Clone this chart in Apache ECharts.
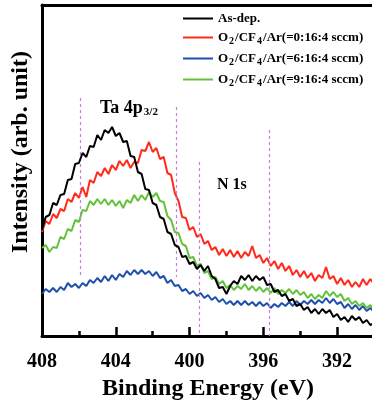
<!DOCTYPE html>
<html><head><meta charset="utf-8">
<script src="https://cdn.jsdelivr.net/npm/echarts@6/dist/echarts.min.js"></script>
<style>html,body{margin:0;padding:0;background:#fff}#c{width:372px;height:400px}</style>
</head><body><div id="c"></div>
<script>
const energy = [408.0,407.8,407.6,407.4,407.2,407.0,406.8,406.6,406.4,406.2,
406.0,405.8,405.6,405.4,405.2,405.0,404.8,404.6,404.4,404.2,
404.0,403.8,403.6,403.4,403.2,403.0,402.8,402.6,402.4,402.2,
402.0,401.8,401.6,401.4,401.2,401.0,400.8,400.6,400.4,400.2,
400.0,399.8,399.6,399.4,399.2,399.0,398.8,398.6,398.4,398.2,
398.0,397.8,397.6,397.4,397.2,397.0,396.8,396.6,396.4,396.2,
396.0,395.8,395.6,395.4,395.2,395.0,394.8,394.6,394.4,394.2,
394.0,393.8,393.6,393.4,393.2,393.0,392.8,392.6,392.4,392.2,
392.0,391.8,391.6,391.4,391.2,391.0,390.8,390.6,390.4,390.2,
390.0];
const asDep = [106,119,121,133,131,141,142,156,157,172,
173,183,179,190,189,201,196,206,203,209,
200,203,194,195,180,179,164,162,147,146,
133,131,119,117,104,102,91,89,79,80,
72,74,67,71,65,70,60,57,48,49,
42,50,55,52,60,56,61,55,60,56,
59,51,52,44,46,40,42,35,37,30,
32,26,29,23,27,22,27,23,26,19,
22,16,19,14,20,16,19,13,16,11,
13];
const o2_0 = [104,115,112,122,118,127,125,137,134,143,
138,149,139,156,153,164,160,168,162,171,
166,175,170,176,168,174,173,186,185,194,
184,188,177,179,163,161,143,135,119,118,
106,109,99,102,92,95,86,89,81,87,
80,86,79,85,78,84,80,90,78,81,
73,78,70,75,67,73,65,70,61,66,
59,65,58,63,55,61,58,69,57,60,
52,58,51,56,49,54,49,57,51,57,
52];
const o2_6 = [42,47,44,48,44,49,46,53,49,52,
48,53,50,56,53,58,54,60,55,61,
56,62,59,65,61,66,62,66,62,65,
60,64,58,60,53,56,50,51,45,47,
42,45,40,43,38,41,36,39,34,37,
32,35,31,35,31,35,31,34,30,34,
30,33,28,32,29,33,30,34,30,35,
31,35,32,36,32,36,33,38,33,37,
32,34,28,32,27,31,26,30,25,28,
24];
const o2_9 = [88,91,84,89,88,99,97,107,105,116,
114,126,125,135,131,137,132,137,131,136,
130,135,128,136,133,141,135,141,136,144,
139,143,135,134,120,116,104,103,92,90,
78,79,70,72,63,65,57,59,52,55,
48,51,46,50,47,52,46,50,45,49,
44,48,43,48,42,46,43,47,42,46,
41,44,38,42,37,41,38,45,40,44,
39,42,35,38,32,35,30,33,28,31,
26];
const seriesNames = ['As-dep.','O2/CF4/Ar(=0:16:4 sccm)','O2/CF4/Ar(=6:16:4 sccm)','O2/CF4/Ar(=9:16:4 sccm)'];
const seriesColors = ['#000000','#ff2a1a','#1f4fad','#62c23a'];
const majorTicks = [408,404,400,396,392];
const minorTicks = [406,402,398,394];
// reference (dashed) lines: [energy, intensity from, intensity to]
const refLines = [[405.9,238,60],[400.7,229,59],[399.5,174,0],[395.7,206,0]];

const serif = '"Liberation Serif","Times New Roman",serif';
const chart = echarts.init(document.getElementById('c'));
const datasets = [asDep, o2_0, o2_6, o2_9];
const series = datasets.map((arr, k) => ({
  name: seriesNames[k], type: 'line', xAxisIndex: 0, yAxisIndex: 0,
  showSymbol: false, symbol: 'none', animation: false,
  lineStyle: {width: 2, color: seriesColors[k]}, itemStyle: {color: seriesColors[k]},
  data: energy.map((e, i) => [e, arr[i]]),
  z: k === 0 ? 5 : 3
}));
series[0].markLine = {
  silent: true, symbol: ['none','none'], animation: false,
  label: {show: false},
  lineStyle: {type: [3,3], color: '#c97fda', width: 1.2},
  data: refLines.map(r => [{coord: [r[0], r[1]]}, {coord: [r[0], r[2]]}])
};
function legendFmt(name) {
  if (name === 'As-dep.') return '{b|As-dep.}';
  const m = name.match(/\(=(.*)\)/);
  return '{b|O}{s|2}{b|/CF}{s|4}{b|/Ar(=' + m[1] + ')}';
}
chart.setOption({
  animation: false,
  grid: {left: 42, top: 5, right: -2, bottom: 64, outerBoundsMode: 'none', containLabel: false},
  legend: {
    orient: 'vertical', left: 183, top: 12, padding: 0, itemWidth: 30, itemHeight: 2, itemGap: 6,
    icon: 'rect', data: seriesNames, formatter: legendFmt,
    textStyle: {
      rich: {
        b: {fontFamily: serif, fontWeight: 'bold', fontSize: 13, color: '#000', lineHeight: 16},
        s: {fontFamily: serif, fontWeight: 'bold', fontSize: 10, color: '#000', padding: [7,1,0,1]}
      }
    }
  },
  xAxis: [
    {type: 'value', min: 390, max: 408, inverse: true, position: 'bottom',
     name: 'Binding Energy (eV)', nameLocation: 'middle', nameGap: 37,
     nameTextStyle: {fontFamily: serif, fontWeight: 'bold', fontSize: 24, color: '#000'},
     axisLine: {lineStyle: {color: '#000', width: 3}},
     axisTick: {inside: true, length: 9, customValues: majorTicks, lineStyle: {color: '#000', width: 2.5}},
     axisLabel: {customValues: majorTicks, fontFamily: serif, fontWeight: 'bold', fontSize: 20, color: '#000', margin: 16},
     splitLine: {show: false}},
    {type: 'value', min: 390, max: 408, inverse: true, position: 'bottom',
     axisLine: {show: false},
     axisTick: {inside: true, length: 5, customValues: minorTicks, lineStyle: {color: '#000', width: 2.5}},
     axisLabel: {show: false}, splitLine: {show: false}},
    {type: 'value', min: 390, max: 408, inverse: true, position: 'top',
     axisLine: {lineStyle: {color: '#000', width: 3}},
     axisTick: {show: false}, axisLabel: {show: false}, splitLine: {show: false}}
  ],
  yAxis: {type: 'value', min: 0, max: 331,
    axisLine: {show: true, lineStyle: {color: '#000', width: 3}},
    axisTick: {show: false}, axisLabel: {show: false}, splitLine: {show: false}},
  graphic: [
    {type: 'text', x: 21, y: 152, rotation: Math.PI / 2,
     style: {text: 'Intensity (arb. unit)', font: 'bold 24px ' + serif, fill: '#000', align: 'center', verticalAlign: 'middle'}},
    {type: 'text', x: 100, y: 108,
     style: {text: '{a|Ta 4p}{s|3/2}', fill: '#000', verticalAlign: 'middle',
       rich: {a: {font: 'bold 18px ' + serif, fill: '#000'},
              s: {font: 'bold 11px ' + serif, fill: '#000', padding: [9,0,0,1]}}}},
    {type: 'text', x: 217, y: 185,
     style: {text: 'N 1s', font: 'bold 16px ' + serif, fill: '#000', verticalAlign: 'middle'}}
  ],
  series: series
});
</script>
</body></html>
